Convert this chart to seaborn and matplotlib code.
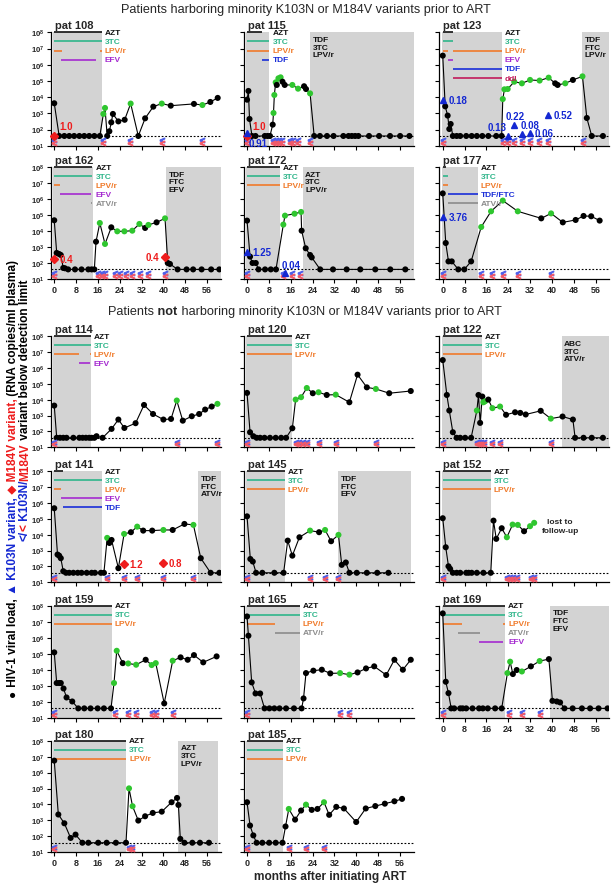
import numpy as np
import pandas as pd
import matplotlib
matplotlib.use("Agg")
import matplotlib.pyplot as plt
from matplotlib.ticker import NullLocator
import seaborn as sns

L = 1.6  # log10 copies/ml at the detection limit (40 copies/ml)

# ---------------- data (months, log10 viral load, point kind k=black g=green) -------------
T108 = [0, 1.8, 3.7, 5.5, 7.3, 9.2, 11.0, 12.8, 14.7, 16.7, 18.0, 18.6, 19.4, 20.2, 20.9, 21.5, 23.5, 25.8, 28.0, 30.8, 33.3, 36.3, 39.4, 42.7, 51.2, 54.3, 57.2, 59.9]
V108 = [3.62, L, L, L, L, L, L, L, L, L, 2.96, 3.33, L, 1.89, 2.44, 2.96, 2.50, 2.60, 3.60, L, 2.69, 3.41, 3.60, 3.47, 3.58, 3.51, 3.70, 3.95]
G108 = "kkkkkkkkkk" + "gg" + "kkkkkk" + "g" + "kkk" + "g" + "kk" + "g" + "kk"
LT108 = [0, 18, 27.8, 39.4, 54.3]
D108 = [("AZT", [(0, 17.4)]), ("3TC", [(0, 17.4)]), ("LPV/r", [(0, 2.7), (16.7, 17.4)]), ("EFV", [(2.4, 15.2)])]
S108 = [(0, 17.4)]
RM108 = ([0], [L], ["1.0"])

T115 = [0, 0.5, 0.9, 1.8, 3.1, 6.5, 7.5, 8.4, 9.4, 9.7, 10.0, 10.5, 10.9, 11.5, 12.3, 13.0, 13.8, 16.6, 18.7, 20.9, 21.6, 23.1, 24.6, 26.7, 29.3, 31.7, 35.3, 37.2, 38.4, 39.6, 40.8, 44.7, 48.4, 52.4, 56.1, 59.5]
V115 = [3.84, 4.38, 2.65, L, L, L, L, L, 2.30, 3.02, 4.13, 4.91, 4.75, 5.16, 5.22, 4.95, 4.75, 4.75, 4.52, 4.67, 4.50, 4.23] + [L] * 14
G115 = "kkkkkkkkk" + "ggg" + "k" + "gg" + "kk" + "gg" + "kk" + "g" + "k" * 14
LT115 = [0, 9.6, 10.6, 11.7, 12.8, 15.7, 17.0, 18.6, 23.2]
D115 = [("AZT", [(0, 5.4)]), ("3TC", [(0, 8.2)]), ("LPV/r", [(0, 8.2)]), ("TDF", [(5.5, 8.2)])]
S115 = [(0, 8.2), (23.1, 62)]
NR115 = "TDF\n3TC\nLPV/r"
RM115 = ([0], [L], ["1.0"])
BK115 = ([0], [1.77], ["0.91"])

T123 = [0, 0.9, 1.8, 2.4, 2.9, 3.7, 5.1, 6.4, 8.6, 10.6, 12.5, 14.5, 16.7, 19.6, 21.6, 22.0, 22.6, 23.8, 26.2, 29.0, 32.0, 35.5, 38.8, 41.2, 42.1, 44.9, 47.7, 51.2, 52.8, 54.6, 58.7]
V123 = [6.56, 3.43, 2.86, 2.03, 2.34, L] + [L] * 9 + [3.88, 4.48, 4.50, 4.95, 4.85, 5.06, 5.02, 5.20, 4.85, 4.75, 4.85, 5.06, 5.28, 2.71, L, L]
G123 = "k" * 15 + "ggg" + "ggggg" + "kk" + "g" + "k" + "g" + "kkk"
LT123 = [0, 22.2, 23.8, 26.2, 29.2, 31.8, 35.4, 38.7, 51.3]
D123 = [("AZT", [(0, 3.9)]), ("3TC", [(0, 3.9)]), ("LPV/r", [(0, 2.1), (3.9, 21.6)]), ("EFV", [(2.0, 3.9)]), ("TDF", [(3.9, 21.6)]), ("ddI", [(3.9, 21.6)])]
S123 = [(0, 21.6), (51.0, 62)]
NR123 = "TDF\nFTC\nLPV/r"
BK123 = ([0, 23.8, 26.2, 29.2, 31.8, 38.7], [3.82, 1.62, 2.28, 1.75, 1.80, 2.92], ["0.18", "0.13", "0.22", "0.08", "0.06", "0.52"])

T162 = [0, 0.9, 1.8, 2.4, 3.3, 3.9, 5.1, 7.6, 10.0, 12.5, 13.7, 14.7, 15.3, 16.7, 18.6, 20.9, 23.1, 25.7, 28.6, 31.2, 33.3, 34.5, 37.5, 40.6, 41.6, 42.4, 45.2, 48.5, 50.9, 54.0, 57.5, 60.5]
V162 = [4.67, 2.63, 2.56, 2.50, 1.69, 1.67] + [L] * 6 + [3.33, 4.50, 3.19, 4.23, 3.98, 3.98, 4.02, 4.44, 4.19, 4.38, 4.54, 4.79, 2.00, 1.94] + [L] * 6
G162 = "k" * 13 + "gg" + "k" + "gggg" + "k" + "g" + "k" + "g" + "kk" + "k" * 6
LT162 = [0, 16.1, 17.4, 18.6, 22.2, 24.1, 26.2, 28.4, 31.4, 34.5, 40.6]
D162 = [("AZT", [(0, 14.0)]), ("3TC", [(0, 14.0)]), ("LPV/r", [(0, 2.1)]), ("EFV", [(2.1, 13.3)]), ("ATV/r", [(13.3, 14.0)])]
S162 = [(0, 14.3), (41.0, 62)]
NR162 = "TDF\nFTC\nEFV"
RM162 = ([0, 40.6], [2.25, 2.38], ["0.4", "0.4"])

T172 = [0, 1.1, 2.0, 3.2, 4.2, 6.6, 8.7, 10.6, 13.3, 13.9, 17.4, 19.8, 20.0, 21.5, 23.1, 23.7, 26.8, 31.5, 36.5, 41.5, 47.0, 52.5, 58.0]
V172 = [4.65, 2.40, 2.00, 2.00, L, L, L, L, 4.40, 4.96, 5.08, 5.19, 4.02, 2.92, 2.50, 2.35] + [L] * 7
G172 = "k" * 8 + "gggg" + "kkkk" + "k" * 7
LT172 = [0, 13.3, 16.6, 19.3]
D172 = [("AZT", [(0, 11.9)]), ("3TC", [(0, 11.9)]), ("LPV/r", [(0, 11.9)])]
S172 = [(0, 12.1), (20.4, 62)]
NR172 = "AZT\n3TC\nLPV/r"
BK172 = ([0, 14.0], [2.71, 1.38], ["1.25", "0.04"])

T177 = [0, 1.1, 2.1, 3.3, 5.7, 7.9, 10.4, 14.1, 17.7, 22.0, 27.5, 36.1, 39.7, 44.0, 48.7, 51.6, 54.4, 57.5]
V177 = [6.35, 3.25, 2.10, 2.10, L, L, 2.10, 4.25, 5.23, 5.90, 5.23, 4.79, 5.10, 4.54, 4.69, 4.94, 4.92, 4.65]
G177 = "kkkkkkk" + "gggg" + "k" + "g" + "kkkkk"
LT177 = [0, 14, 18, 22, 27.5, 39.7]
D177 = [("AZT", [(0, 1.2)]), ("3TC", [(0, 2.1)]), ("LPV/r", [(0, 2.1)]), ("TDF/FTC", [(2.1, 12.8)]), ("ATV/r", [(2.1, 12.8)])]
S177 = [(0, 12.8)]
BK177 = ([0], [4.9], ["3.76"])

T114 = [0, 0.9, 2.1, 3.3, 4.5, 7.0, 9.2, 10.4, 11.6, 12.8, 13.7, 14.7, 15.5, 17.7, 21.0, 23.5, 25.7, 29.8, 32.9, 36.2, 40.0, 42.8, 44.9, 47.1, 50.4, 53.1, 55.3, 57.7, 59.8]
V114 = [3.63] + [L] * 11 + [1.70, L, 2.16, 2.75, 2.22, 2.52, 3.67, 3.10, 2.75, 2.79, 3.95, 2.68, 2.96, 3.10, 3.38, 3.57, 3.74]
G114 = "k" * 22 + "g" + "kkkkk" + "g"
LT114 = [0, 44.9, 59.8]
D114 = [("AZT", [(0, 13.4)]), ("3TC", [(0, 13.4)]), ("LPV/r", [(0, 9.2), (13.1, 13.4)]), ("EFV", [(9.0, 13.1)])]
S114 = [(0, 13.4)]

T120 = [0, 1.1, 2.3, 3.5, 4.8, 6.4, 8.4, 10.5, 12.5, 14.3, 16.6, 17.8, 19.8, 21.9, 24.1, 26.2, 29.2, 32.5, 37.5, 40.5, 43.9, 47.2, 52.1, 60.0]
V120 = [4.43, 1.95, 1.70, L, L, L, L, L, L, L, 2.20, 4.01, 4.16, 4.74, 4.41, 4.47, 4.30, 4.32, 3.84, 5.58, 4.78, 4.68, 4.41, 4.55]
G120 = "k" * 11 + "ggg" + "k" + "g" + "k" + "g" + "kkk" + "g" + "kk"
LT120 = [0, 17.8, 19.2, 20.6, 22, 26.2, 32.5, 47.2]
D120 = [("AZT", [(0, 16.4)]), ("3TC", [(0, 16.4)]), ("LPV/r", [(0, 16.4)])]
S120 = [(0, 16.4)]

T122 = [0, 1.5, 2.4, 3.7, 5.1, 6.4, 8.2, 10.4, 12.5, 13.1, 13.7, 14.5, 14.9, 15.5, 16.7, 18.2, 21.0, 23.2, 26.5, 28.4, 30.4, 35.9, 39.6, 43.9, 47.7, 48.5, 51.6, 54.6, 58.7]
V122 = [6.50, 4.30, 3.32, 1.95, L, L, L, L, 3.32, 4.30, 2.54, 4.20, 3.84, 3.90, 4.01, 3.47, 3.57, 3.05, 3.21, 3.17, 3.07, 3.30, 2.81, 2.94, 2.75, L, L, L, L]
G122 = "k" * 8 + "g" + "kkk" + "gg" + "k" + "gg" + "kkkkk" + "g" + "k" * 6
LT122 = [0, 12.5, 13.3, 14.2, 15, 18.2, 21, 39.6]
D122 = [("AZT", [(0, 14.3)]), ("3TC", [(0, 14.3)]), ("LPV/r", [(0, 14.3)])]
S122 = [(0, 14.3), (43.6, 62)]
NR122 = "ABC\n3TC\nATV/r"

T141 = [0, 1.2, 1.8, 2.4, 3.3, 4.3, 5.5, 7.0, 8.6, 10.0, 11.9, 13.7, 14.9, 17.1, 18.2, 19.4, 20.2, 21.0, 23.5, 25.6, 28.1, 30.4, 32.6, 35.9, 40.0, 43.4, 47.7, 51.0, 53.7, 57.3, 60.5]
V141 = [5.67, 2.75, 2.68, 2.52, 1.70] + [L] * 10 + [3.80, 3.48, 3.67, 1.89, 4.05, 4.16, 4.51, 4.26, 4.26, 4.30, 4.30, 4.68, 4.62, 2.52, L, L]
G141 = "k" * 15 + "g" + "kkk" + "g" + "k" + "g" + "kk" + "g" + "kk" + "g" + "kkk"
LT141 = [0, 19.4, 25.6, 30.4, 40, 51]
D141 = [("AZT", [(0, 3.3)]), ("3TC", [(0, 17.4)]), ("LPV/r", [(0, 2.3)]), ("EFV", [(2.3, 17.4)]), ("TDF", [(3.3, 17.4)])]
S141 = [(0, 17.4), (52.8, 62)]
NR141 = "TDF\nFTC\nATV/r"
RM141 = ([25.6, 40.0], [2.16, 2.20], ["1.2", "0.8"])

T145 = [0, 1.2, 2.1, 3.3, 5.6, 10.0, 13.4, 14.9, 16.6, 19.2, 23.1, 26.4, 28.6, 30.8, 33.5, 34.7, 36.2, 37.5, 40.2, 43.9, 47.7, 51.8]
V145 = [5.16, 2.47, 2.31, L, L, L, L, 3.63, 2.68, 3.84, 4.26, 4.16, 4.30, 3.59, 3.99, 2.10, 2.25, L, L, L, L, L]
G145 = "k" * 10 + "g" + "k" + "g" + "k" + "g" + "k" * 7
LT145 = [0, 23.1, 28.6, 33.5]
D145 = [("AZT", [(0, 13.9)]), ("3TC", [(0, 13.9)]), ("LPV/r", [(0, 13.9)])]
S145 = [(0, 13.9), (33.5, 60)]
NR145 = "TDF\nFTC\nEFV"

T152 = [0, 1.1, 2.1, 2.7, 3.7, 5.1, 6.4, 8.6, 9.5, 10.6, 12.5, 14.9, 17.6, 18.6, 19.6, 21.6, 23.5, 25.6, 27.5, 29.8, 32.0, 33.5]
V152 = [5.04, 3.21, 2.01, 1.85] + [L] * 9 + [4.89, 3.74, 4.41, 3.84, 4.64, 4.62, 4.22, 4.54, 4.75]
G152 = "k" * 16 + "ggg" + "k" + "gg"
LT152 = [0, 23.5, 24.7, 25.9, 27.1, 32.5, 33.5]
D152 = [("AZT", [(0, 17.6)]), ("3TC", [(0, 17.6)]), ("LPV/r", [(0, 17.6)])]
S152 = [(0, 17.6)]

T159 = [0, 0.9, 1.8, 2.4, 3.4, 4.5, 6.6, 8.8, 11.0, 13.3, 15.9, 18.2, 20.8, 21.9, 22.9, 25.1, 27.1, 30.0, 33.5, 35.7, 37.2, 40.3, 43.4, 46.3, 48.9, 51.2, 54.6, 59.5]
V159 = [5.09, 3.18, 3.18, 3.18, 2.84, 2.28, 2.03] + [L] * 6 + [3.18, 5.19, 4.42, 4.40, 4.32, 4.63, 4.30, 4.42, 1.91, 4.57, 4.78, 4.63, 4.92, 4.47, 4.84]
G159 = "k" * 13 + "gg" + "k" + "gg" + "k" + "gg" + "k" + "g" + "kkkkk"
LT159 = [0, 22.4, 27.1, 30, 35.7, 37.2, 43.4]
D159 = [("AZT", [(0, 21.0)]), ("3TC", [(0, 21.0)]), ("LPV/r", [(0, 21.0)])]
S159 = [(0, 21.0)]

T165 = [0, 0.5, 1.7, 3.1, 4.8, 6.4, 8.2, 10.0, 11.9, 14.3, 17.2, 20.0, 20.7, 21.6, 24.3, 27.4, 30.5, 34.1, 37.5, 40.5, 43.6, 46.6, 51.0, 54.0, 57.1, 60.0]
V165 = [7.33, 6.13, 3.22, 2.53, 2.53] + [L] * 7 + [2.22, 3.80, 3.95, 4.01, 3.78, 3.80, 3.70, 3.84, 4.09, 4.22, 3.68, 4.63, 4.01, 4.63]
G165 = "k" * 17 + "gg" + "k" * 7
LT165 = [0, 34.1, 37.5]
D165 = [("AZT", [(0, 19.4)]), ("3TC", [(0, 19.4)]), ("LPV/r", [(0, 10.3)]), ("ATV/r", [(10.3, 19.4)])]
S165 = [(0, 19.4)]

T169 = [0, 1.1, 2.1, 3.1, 4.2, 6.4, 7.3, 8.6, 10.9, 13.3, 14.7, 16.5, 19.2, 21.6, 23.7, 24.7, 25.7, 27.1, 29.0, 32.3, 35.5, 38.9, 40.2, 41.8, 43.0, 44.6, 47.6, 51.0, 54.0, 57.1, 60.4]
V169 = [7.52, 3.26, 2.55, L] + [L] * 10 + [3.80, 4.51, 3.74, 3.99, 3.90, 4.22, 4.55, 4.67, 2.07, 2.03, 1.97] + [L] * 6
G169 = "k" * 14 + "gg" + "kk" + "g" + "k" + "g" + "kkkk" + "k" * 6
LT169 = [0, 24.2, 29, 35.5]
D169 = [("AZT", [(0, 22.9)]), ("3TC", [(0, 22.9)]), ("LPV/r", [(0, 7.0), (22.0, 22.9)]), ("ATV/r", [(5.7, 13.7)]), ("EFV", [(13.4, 22.0)])]
S169 = [(0, 22.9), (39.4, 62)]
NR169 = "TDF\nFTC\nEFV"

T180 = [0, 1.5, 3.7, 6.0, 7.8, 10.3, 12.5, 16.1, 19.2, 22.6, 26.3, 27.4, 28.7, 30.8, 33.3, 36.1, 39.4, 43.0, 45.0, 45.5, 46.2, 47.7, 50.6, 53.4, 56.7]
V180 = [6.75, 3.37, 2.82, 1.90, 2.11] + [L] * 6 + [5.01, 3.89, 2.99, 3.26, 3.47, 3.55, 4.14, 4.41, 3.97, 1.84] + [L] * 4
G180 = "k" * 11 + "gg" + "k" * 12
LT180 = [0, 27.4, 28.5]
D180 = [("AZT", [(0, 26.3)]), ("3TC", [(0, 26.3)]), ("LPV/r", [(0, 26.3)])]
S180 = [(0, 26.3), (45.5, 60)]
NR180 = "AZT\n3TC\nLPV/r"

T185 = [0, 1.1, 2.3, 3.5, 5.6, 8.1, 10.5, 13.0, 14.1, 15.3, 17.6, 19.8, 21.6, 23.7, 25.8, 28.2, 30.1, 32.7, 35.5, 40.0, 43.5, 47.0, 50.5, 54.0, 56.8]
V185 = [4.14, 2.68, 2.06, L, L, L, L, L, 2.62, 3.72, 3.05, 3.62, 3.99, 3.66, 3.72, 4.14, 3.35, 3.85, 3.75, 2.90, 3.75, 3.90, 4.05, 4.20, 4.35]
G185 = "k" * 9 + "g" + "kk" + "g" + "kk" + "g" + "k" + "k" * 8
LT185 = [0, 15.3, 21.6, 28.2]
D185 = [("AZT", [(0, 13.0)]), ("3TC", [(0, 13.0)]), ("LPV/r", [(0, 13.0)])]
S185 = [(0, 13.0)]

NONE3 = ([], [], [])
PANELS = [
    ("108", T108, V108, G108, LT108, D108, S108, None, RM108, NONE3),
    ("115", T115, V115, G115, LT115, D115, S115, NR115, RM115, BK115),
    ("123", T123, V123, G123, LT123, D123, S123, NR123, NONE3, BK123),
    ("162", T162, V162, G162, LT162, D162, S162, NR162, RM162, NONE3),
    ("172", T172, V172, G172, LT172, D172, S172, NR172, NONE3, BK172),
    ("177", T177, V177, G177, LT177, D177, S177, None, NONE3, BK177),
    ("114", T114, V114, G114, LT114, D114, S114, None, NONE3, NONE3),
    ("120", T120, V120, G120, LT120, D120, S120, None, NONE3, NONE3),
    ("122", T122, V122, G122, LT122, D122, S122, NR122, NONE3, NONE3),
    ("141", T141, V141, G141, LT141, D141, S141, NR141, RM141, NONE3),
    ("145", T145, V145, G145, LT145, D145, S145, NR145, NONE3, NONE3),
    ("152", T152, V152, G152, LT152, D152, S152, None, NONE3, NONE3),
    ("159", T159, V159, G159, LT159, D159, S159, None, NONE3, NONE3),
    ("165", T165, V165, G165, LT165, D165, S165, None, NONE3, NONE3),
    ("169", T169, V169, G169, LT169, D169, S169, NR169, NONE3, NONE3),
    ("180", T180, V180, G180, LT180, D180, S180, NR180, NONE3, NONE3),
    ("185", T185, V185, G185, LT185, D185, S185, None, NONE3, NONE3),
]

# ---------------- style -------------------------------------------------------------
SHADE = "#d3d3d3"
GREEN = "#2fc62f"
RED = "#ee1c1c"
BLUE = "#1428d2"
LT_BLUE = "#5060e8"
LT_RED = "#f05a6a"
DRUG_COL = {"AZT": "#111111", "3TC": "#2fb58a", "LPV/r": "#f07a2a", "EFV": "#a52ad0",
            "TDF": "#1a2ed8", "ddI": "#c21a5a", "ATV/r": "#8c8c8c", "TDF/FTC": "#1a2ed8"}

# label offsets (points) for annotated variant marks
OFFS = {("108", "r", 0): (4, 7, "left"), ("115", "r", 0): (4, 7, "left"),
        ("115", "b", 0): (1, -7, "left"), ("162", "r", 1): (-4, 0, "right"),
        ("123", "b", 1): (-1, 6.5, "right"), ("123", "b", 2): (-6.5, 6.8, "left"),
        ("123", "b", 3): (-1.6, 6.2, "left"), ("172", "b", 1): (-2.5, 6, "left")}

POS = {"108": (0, 0), "115": (0, 1), "123": (0, 2), "162": (1, 0), "172": (1, 1), "177": (1, 2),
       "114": (2, 0), "120": (2, 1), "122": (2, 2), "141": (3, 0), "145": (3, 1), "152": (3, 2),
       "159": (4, 0), "165": (4, 1), "169": (4, 2), "180": (5, 0), "185": (5, 1)}
XLAB = {"162", "172", "177", "169", "180", "185"}

W, H = 614.0, 887.0
COL_L = [50.7, 243.5, 439.2]
ROWS = [(33.3, 146.7), (168, 280), (337.3, 448.3), (472.3, 583.3), (606.7, 719), (741.7, 853.3)]
AXW = 170.0

sns.set_theme(style="ticks")
FAM = ["Liberation Sans", "DejaVu Sans"]
plt.rcParams["font.family"] = FAM
plt.rcParams["mathtext.fontset"] = "custom"
plt.rcParams["mathtext.rm"] = "Liberation Sans"
plt.rcParams["mathtext.bf"] = "Liberation Sans:bold"
plt.rcParams["axes.linewidth"] = 0.9

fig = plt.figure(figsize=(6.14, 8.87), dpi=100)


def draw_panel(ax, pid, T, V, G, LT, D, S, NR, RM, BK):
    ax.set_yscale("log")
    for (a, b) in S:
        ax.axvspan(a - (0.4 if a == 0 else 0), b, color=SHADE, lw=0, zorder=0)
    ax.axhline(10 ** L, color="black", lw=0.8, ls=(0, (1.6, 1.6)), zorder=1)
    df = pd.DataFrame({"month": T, "load": np.power(10.0, V), "kind": list(G)})
    sns.lineplot(data=df, x="month", y="load", sort=False, estimator=None,
                 color="black", lw=0.8, ax=ax, zorder=3)
    sns.scatterplot(data=df, x="month", y="load", hue="kind",
                    palette={"k": "black", "g": GREEN}, s=19, linewidth=0,
                    legend=False, ax=ax, zorder=4)
    # below-detection markers
    n = len(LT)
    ax.plot(LT, [10 ** 1.36] * n, ls="none", marker="$<$", ms=3.3, color=LT_BLUE, zorder=5, clip_on=False)
    ax.plot(LT, [10 ** 1.19] * n, ls="none", marker="$<$", ms=3.3, color=LT_RED, zorder=5, clip_on=False)
    # minority variants
    for kind, (tt, vv, labs), mk, col, ms in (("r", RM, "D", RED, 3.6), ("b", BK, "^", BLUE, 4.2)):
        if tt:
            ax.plot(tt, np.power(10.0, vv), ls="none", marker=mk, ms=ms, color=col, zorder=6, clip_on=False)
        for i, (t, v, lab) in enumerate(zip(tt, vv, labs)):
            dx, dy, ha = OFFS.get((pid, kind, i), (4, 0, "left"))
            ax.annotate(lab, (t, 10 ** v), xytext=(dx, dy), textcoords="offset points",
                        ha=ha, va="center", color=col, fontsize=7, fontweight="bold", zorder=7)
    # regimen bars
    end = max(b for _, segs in D for _, b in segs)
    for i, (name, segs) in enumerate(D):
        y = 10 ** (8 - 0.565 * i)
        for a, b in segs:
            ax.plot([a, b], [y, y], color=DRUG_COL[name], lw=1.2, solid_capstyle="butt",
                    clip_on=False, zorder=2)
        ax.text(end + 1.1, y, name, color=DRUG_COL[name], fontsize=6, fontweight="bold",
                va="center", ha="left", clip_on=False, zorder=7)
    if NR:
        ax.text(S[-1][0] + 0.9, 10 ** 7.78, NR, fontsize=6, fontweight="bold", va="top",
                ha="left", linespacing=1.15, color="#111111")
    if pid == "152":
        ax.text(43, 10 ** 4.55, "lost to\nfollow-up", fontsize=6, fontweight="bold",
                ha="center", va="center", linespacing=1.3)
    ax.text(0.025, 1.035, "pat " + pid, transform=ax.transAxes, fontsize=8,
            fontweight="bold", ha="left", va="baseline")


for (pid, T, V, G, LT, D, S, NR, RM, BK) in PANELS:
    r, c = POS[pid]
    top, bot = ROWS[r]
    ax = fig.add_axes([COL_L[c] / W, 1 - bot / H, AXW / W, (bot - top) / H])
    draw_panel(ax, pid, T, V, G, LT, D, S, NR, RM, BK)
    ax.set_xlim(-1.3, 61)
    ax.set_ylim(10, 1e8)
    ax.set_xlabel("")
    ax.set_ylabel("")
    ax.yaxis.set_minor_locator(NullLocator())
    ax.set_yticks([10.0 ** k for k in range(1, 9)])
    ax.set_xticks(list(range(0, 57, 8)))
    ax.tick_params(axis="both", which="major", length=3, width=0.8, pad=1.2,
                   direction="out", color="black")
    if c == 0:
        ax.set_yticklabels([r"$\mathbf{10^{%d}}$" % k for k in range(1, 9)], fontsize=5.6)
    else:
        ax.set_yticklabels([])
    if pid in XLAB:
        ax.set_xticklabels([str(v) for v in range(0, 57, 8)], fontsize=6.5, fontweight="bold")
    else:
        ax.set_xticklabels([])
    for s in ("top", "right"):
        ax.spines[s].set_visible(False)
    for s in ("left", "bottom"):
        ax.spines[s].set_color("black")

renderer = fig.canvas.get_renderer()

# ---- section titles
t1 = fig.text(306 / W, 1 - 13.5 / H, "Patients harboring minority K103N or M184V variants prior to ART",
              fontsize=9, ha="center", va="baseline")
w1 = t1.get_window_extent(renderer).width
fs_title = 9 * 372.0 / w1
t1.set_fontsize(fs_title)

pieces = [("Patients", "normal"), (" not", "bold"),
          (" harboring minority K103N or M184V variants prior to ART", "normal")]
objs, total = [], 0.0
for s, wgt in pieces:
    t = fig.text(0, 1 - 315 / H, s, fontsize=fs_title, fontweight=wgt, ha="left", va="baseline")
    objs.append(t)
    total += t.get_window_extent(renderer).width
x = 305 - total / 2
for t in objs:
    t.set_x(x / W)
    x += t.get_window_extent(renderer).width

# ---- x label
fig.text(330 / W, 1 - 880 / H, "months after initiating ART", fontsize=8.6, fontweight="bold",
         ha="center", va="baseline")


# ---- multicoloured vertical y label
def vertical_pieces(xpx, ypx_bottom, items, fs):
    y = 1 - ypx_bottom / H
    for s, col in items:
        t = fig.text(xpx / W, y, s, rotation=90, rotation_mode="anchor", ha="left",
                     va="baseline", color=col, fontsize=fs, fontweight="bold", family=FAM)
        y += t.get_window_extent(renderer).height / H


vertical_pieces(16.0, 697, [("\u25cf", "black"), (" HIV-1 viral load,", "black"),
                            (" \u25b2 K103N variant,", BLUE), (" \u25c6 M184V variant,", RED),
                            (" (RNA copies/ml plasma)", "black")], 8.6)
vertical_pieces(28.0, 541, [("</", BLUE), ("<", RED), (" K103N/", BLUE), ("M184V", RED),
                            (" variant below detection limit", "black")], 8.6)

fig.savefig("out.png", dpi=100)
